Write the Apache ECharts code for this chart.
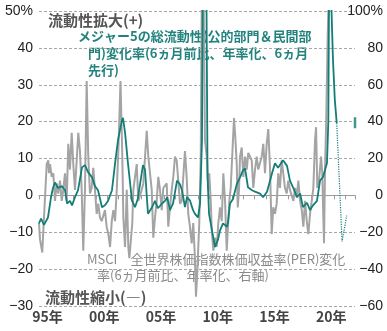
<!DOCTYPE html>
<html>
<head>
<meta charset="utf-8">
<script src="https://cdn.jsdelivr.net/npm/echarts@6/dist/echarts.min.js"></script>
<style>
  html, body { margin: 0; padding: 0; background: #fff; }
  #chart { width: 387px; height: 331px; }
</style>
</head>
<body>
<div id="chart"></div>
<script>
// Major-5 total liquidity (public + private), 6-month change, annualised, led 6 months — left axis, %
const liquidity = [
  [1995.00,-7.6],[1995.18,-6.3],[1995.44,-8],[1995.79,-6],[1996.06,-0.5],[1996.23,2],[1996.41,3.5],
  [1996.67,2],[1997.03,2.5],[1997.29,1.4],[1997.47,-2.2],[1997.73,-1.5],[1997.91,-2.7],[1998.17,-0.5],
  [1998.44,1.4],[1998.79,7.6],[1999.05,8.2],[1999.32,6.3],[1999.67,4.9],[1999.93,2.5],[2000.20,1.4],
  [2000.55,-3.2],[2000.81,-2.7],[2001.08,-1.5],[2001.43,1.4],[2001.70,8.7],[2001.96,15],[2002.31,20.4],
  [2002.40,21],[2002.58,17],[2002.84,8.7],[2003.19,-1.4],[2003.46,-3.2],[2003.70,-1],[2003.90,3],
  [2004.16,8.2],[2004.34,7],[2004.52,-1.4],[2004.60,-5],[2004.96,-3.2],[2005.22,-1.5],[2005.48,-3.5],
  [2005.84,-2.2],[2006.10,-1.5],[2006.30,-0.5],[2006.54,-4],[2006.81,-2.2],[2007.16,4],[2007.42,3],
  [2007.60,1.4],[2007.86,-3.2],[2008.04,-0.5],[2008.30,-1.4],[2008.57,-4],[2008.74,-5],[2009.01,-6],
  [2009.19,-2.2],[2009.36,15],[2009.45,70],[2009.72,70],[2009.85,5],[2009.98,-5],[2010.24,-9.5],
  [2010.51,-14],[2010.77,-12],[2010.95,-9.5],[2011.21,-7.6],[2011.56,-8.5],[2011.65,-7.3],[2011.83,-2.2],
  [2012.09,-1],[2012.44,3.2],[2012.71,4.9],[2012.97,6.8],[2013.15,7.3],[2013.41,2.2],[2013.77,1.4],
  [2014.03,1],[2014.47,0.5],[2014.74,-0.5],[2015.09,1],[2015.53,6],[2015.79,8.7],[2016.06,7.5],
  [2016.50,9.5],[2016.85,8],[2017.11,4],[2017.38,2.2],[2017.73,-0.5],[2018.00,0.5],[2018.26,-3.2],
  [2018.61,-2],[2018.88,-4],[2019.14,-2.7],[2019.49,-1.5],[2019.76,4],[2020.02,5],[2020.37,8.7],
  [2020.49,20],[2020.58,70],[2020.72,70],[2020.90,36.7],[2021.06,26],[2021.23,19.6]
];

// Projected stretch of the led liquidity series (dotted)
const liquidityProjection = [[2021.23,19.6],[2021.70,-12.5],[2022.11,-5.5]];

// Latest liquidity reading, marked at the right edge
const liquidityLatest = [[2022.84,19.7]];

// MSCI ACWI P/E ratio, 6-month change, annualised — right axis, %
const perChange = [
  [1995.00,-15],[1995.09,-24],[1995.29,-31],[1995.38,-19],[1995.53,-1],[1995.68,17],[1995.82,19],
  [1995.88,12],[1995.97,17],[1996.12,10],[1996.26,12],[1996.41,-3],[1996.56,6.5],[1996.70,1],
  [1996.85,8],[1997.00,-3],[1997.14,3],[1997.29,12],[1997.44,-3],[1997.58,28],[1997.73,14],
  [1997.88,34],[1998.02,17],[1998.17,3],[1998.32,19],[1998.46,34],[1998.61,24],[1998.76,3],
  [1998.90,-30],[1999.05,3],[1999.20,62],[1999.34,21],[1999.49,1],[1999.64,4],[1999.78,15],
  [1999.93,3],[2000.08,-10],[2000.22,-4.5],[2000.37,-12],[2000.52,-14],[2000.67,-15],[2000.81,-8],
  [2000.96,-17],[2001.11,-21],[2001.26,-28],[2001.41,-14],[2001.55,-8],[2001.70,-14],[2001.85,3],
  [2001.99,24],[2002.18,62],[2002.34,21],[2002.43,-12],[2002.58,-28],[2002.73,3],[2002.87,-28],
  [2002.96,-34],[2003.11,-23],[2003.22,-15],[2003.31,3],[2003.46,10],[2003.61,17],[2003.75,-3],
  [2004.05,3],[2004.19,6.5],[2004.49,35],[2004.63,21],[2004.78,12],[2004.93,3],[2005.07,-23],
  [2005.22,-12],[2005.37,-3],[2005.51,10],[2005.66,3],[2005.81,-8],[2005.95,4],[2006.10,3],
  [2006.25,6.5],[2006.39,-17],[2006.54,-6.5],[2006.69,3],[2006.83,10],[2006.98,21],[2007.13,19],
  [2007.27,8],[2007.42,-4.5],[2007.57,-3],[2007.71,10],[2007.86,24],[2008.01,10],[2008.15,-10],
  [2008.30,-17],[2008.45,-26],[2008.59,-15],[2008.74,-34],[2008.83,-55],[2008.95,-41],[2009.12,-15],
  [2009.25,21],[2009.35,115],[2009.50,112],[2009.62,30],[2009.78,21],[2009.92,3],[2010.00,12],
  [2010.13,-3],[2010.22,-19],[2010.36,-30],[2010.51,-23],[2010.66,-28],[2010.80,-15],[2010.95,-6.5],
  [2011.10,-14],[2011.24,12],[2011.39,-3],[2011.54,-30],[2011.63,-19],[2011.77,-3],[2011.89,4],
  [2012.03,3],[2012.18,42],[2012.30,31],[2012.42,17],[2012.51,-6.5],[2012.62,3],[2012.71,21],
  [2012.86,26],[2013.00,10],[2013.15,21],[2013.30,14],[2013.44,23],[2013.59,21],[2013.74,19],
  [2013.88,4],[2014.03,14],[2014.18,21],[2014.32,14],[2014.47,15],[2014.62,21],[2014.76,28],
  [2014.91,12],[2015.06,28],[2015.20,36],[2015.35,15],[2015.50,-21],[2015.64,-6.5],[2015.79,-10],
  [2015.94,-4.5],[2016.08,12],[2016.23,4],[2016.38,19],[2016.52,12],[2016.67,4],[2016.82,1],
  [2016.96,8],[2017.11,3],[2017.26,4],[2017.41,-3],[2017.56,4],[2017.70,-1],[2017.85,8],
  [2018.00,-3],[2018.15,-8],[2018.29,-17],[2018.44,-3],[2018.59,-14],[2018.73,-21],[2018.88,-10],
  [2019.03,-3],[2019.17,4],[2019.32,30],[2019.41,37],[2019.52,4],[2019.67,8],[2019.85,21],
  [2019.96,12],[2020.05,-12],[2020.11,-26],[2020.20,15],[2020.29,37],[2020.44,88],[2020.55,115]
];

// Axis ranges and tick labels
const leftAxis = { min: -30, max: 50, step: 10 };
const rightAxis = { min: -60, max: 100, step: 20 };
const yearRange = { start: 1995, end: 2022.84 };
const yearLabels = { 1995: '95年', 2000: '00年', 2005: '05年', 2010: '10年', 2015: '15年', 2020: '20年' };

const TEAL = '#137d77';
const TEAL_TEXT = '#22837e';
const GREY = '#a4a4a4';
const NUM_FONT = '"Liberation Sans", Arial, sans-serif';
const JP_FONT = '"Noto Sans CJK JP", sans-serif';

function signed(v) { return v < 0 ? '\u2212' + (-v) : String(v); }

const chart = echarts.init(document.getElementById('chart'), null, { renderer: 'canvas' });

chart.setOption({
  animation: false,
  backgroundColor: '#fff',
  grid: { left: 39, right: 32, top: 11, bottom: 25, containLabel: false },
  xAxis: {
    type: 'value',
    min: yearRange.start,
    max: yearRange.end,
    interval: 1,
    axisLine: { show: true, lineStyle: { color: '#9a9a9a', width: 1 } },
    axisTick: { show: true, length: 4, lineStyle: { color: '#9a9a9a' } },
    splitLine: { show: false },
    axisLabel: {
      formatter: v => yearLabels[Math.round(v)] && Math.abs(v - Math.round(v)) < 1e-6 ? yearLabels[Math.round(v)] : '',
      color: '#444',
      fontWeight: 'bold',
      fontSize: 14,
      fontFamily: JP_FONT,
      margin: 4,
      padding: [0, 0, 0, 17]
    }
  },
  yAxis: [
    {
      type: 'value',
      position: 'left',
      min: leftAxis.min, max: leftAxis.max, interval: leftAxis.step,
      axisLine: { show: false }, axisTick: { show: false },
      splitLine: { show: true, lineStyle: { color: '#a8a8a8', type: [3, 2], width: 1 } },
      axisLabel: {
        formatter: v => v === leftAxis.max ? v + '%' : signed(v),
        color: '#222', fontSize: 14, fontFamily: NUM_FONT, margin: 6
      }
    },
    {
      type: 'value',
      position: 'right',
      min: rightAxis.min, max: rightAxis.max, interval: rightAxis.step,
      axisLine: { show: false }, axisTick: { show: false },
      splitLine: { show: false },
      axisLabel: {
        formatter: v => v === rightAxis.max ? v + '%' : signed(v),
        color: '#222', fontSize: 14, fontFamily: NUM_FONT,
        align: 'right', margin: 28, padding: [0, 0, 8, 0]
      }
    }
  ],
  series: [
    {
      name: 'PER',
      type: 'line',
      yAxisIndex: 1,
      data: perChange,
      showSymbol: false,
      clip: true,
      lineStyle: { color: GREY, width: 2 },
      z: 2
    },
    {
      name: 'liquidity',
      type: 'line',
      yAxisIndex: 0,
      data: liquidity,
      showSymbol: false,
      clip: true,
      lineStyle: { color: TEAL, width: 1.8 },
      z: 3
    },
    {
      name: 'liquidity-proj',
      type: 'line',
      yAxisIndex: 0,
      data: liquidityProjection,
      showSymbol: false,
      clip: true,
      lineStyle: { color: TEAL, width: 1.2, type: 'dotted' },
      z: 3
    },
    {
      name: 'latest',
      type: 'scatter',
      yAxisIndex: 0,
      data: liquidityLatest,
      symbol: 'rect',
      symbolSize: [2.5, 11],
      itemStyle: { color: TEAL },
      clip: false,
      z: 4
    }
  ],
  graphic: [
    { type: 'text', x: 48, y: 20, style: { text: '流動性拡大(+)', font: 'bold 15px ' + JP_FONT, fill: '#555', verticalAlign: 'middle' } },
    { type: 'text', x: 45, y: 297, style: { text: '流動性縮小(―)', font: 'bold 15px ' + JP_FONT, fill: '#555', verticalAlign: 'middle' } },
    { type: 'text', x: 78, y: 36, style: { text: 'メジャー5の総流動性(公的部門＆民間部', font: 'bold 13px ' + JP_FONT, fill: TEAL_TEXT, verticalAlign: 'middle' } },
    { type: 'text', x: 88, y: 53, style: { text: '門)変化率(6ヵ月前比、年率化、6ヵ月', font: 'bold 13px ' + JP_FONT, fill: TEAL_TEXT, verticalAlign: 'middle' } },
    { type: 'text', x: 88, y: 70, style: { text: '先行)', font: 'bold 13px ' + JP_FONT, fill: TEAL_TEXT, verticalAlign: 'middle' } },
    { type: 'text', x: 87, y: 259, style: { text: 'MSCI　全世界株価指数株価収益率(PER)変化', font: '13px ' + JP_FONT, fill: '#8a8a8a', verticalAlign: 'middle' } },
    { type: 'text', x: 97, y: 275, style: { text: '率(6ヵ月前比、年率化、右軸)', font: '13px ' + JP_FONT, fill: '#8a8a8a', verticalAlign: 'middle' } }
  ]
});
</script>
</body>
</html>
